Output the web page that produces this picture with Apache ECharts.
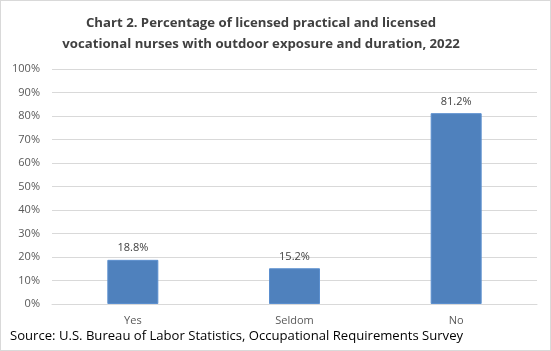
<!DOCTYPE html>
<html>
<head>
<meta charset="utf-8">
<script src="https://cdn.jsdelivr.net/npm/echarts@6/dist/echarts.min.js"></script>
<style>
  html, body { margin: 0; padding: 0; background: #fff; }
  #chart { width: 549px; height: 349px; border: 1px solid #d9d9d9; }
</style>
</head>
<body>
<div id="chart"></div>
<script>
// 图表数据
const categories = ['Yes', 'Seldom', 'No'];
const values = [18.8, 15.2, 81.2];

const myChart = echarts.init(document.getElementById('chart'));
const font = 'Open Sans';
const option = {
    graphic: [{
        type: 'text',
        x: 260,
        y: 12,
        style: {
            text: 'Chart 2. Percentage of licensed practical and licensed\nvocational nurses with outdoor exposure and duration, 2022',
            textAlign: 'center',
            fontFamily: font,
            fontSize: 13.2,
            fontWeight: 'bold',
            fill: '#404040',
            lineHeight: 21
        }
    }, {
        type: 'text',
        left: 9,
        top: 329,
        style: {
            text: 'Source: U.S. Bureau of Labor Statistics, Occupational Requirements Survey',
            fontFamily: font,
            fontSize: 13.1,
            fill: '#000'
        }
    }],
    grid: { left: 51, right: 13, top: 68, bottom: 46 },
    xAxis: {
        type: 'category',
        data: categories,
        axisLine: { lineStyle: { color: '#d9d9d9' } },
        axisTick: { show: false },
        axisLabel: { color: '#595959', fontFamily: font, fontSize: 11, margin: 11 }
    },
    yAxis: {
        type: 'value',
        min: 0,
        max: 100,
        interval: 10,
        axisLabel: { formatter: '{value}%', color: '#595959', fontFamily: font, fontSize: 11, margin: 12 },
        splitLine: { lineStyle: { color: '#d9d9d9' } },
        axisLine: { show: false },
        axisTick: { show: false }
    },
    series: [{
        type: 'bar',
        data: values,
        barWidth: 51,
        itemStyle: { color: '#4f81bd', borderColor: '#5b8fcf', borderWidth: 1 },
        label: {
            show: true,
            position: 'top',
            formatter: (p) => p.value.toFixed(1) + '%',
            color: '#404040',
            fontFamily: font,
            fontSize: 11,
            distance: 6
        }
    }],
    animation: false
};
myChart.setOption(option);
</script>
</body>
</html>
